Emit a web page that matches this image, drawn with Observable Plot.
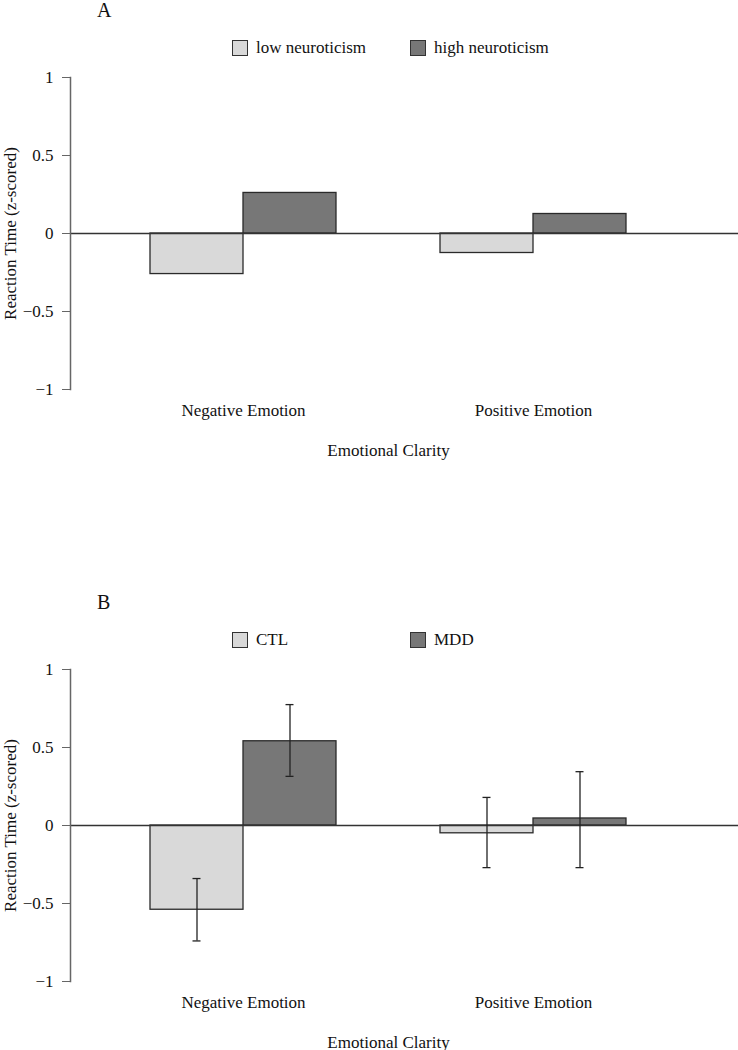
<!DOCTYPE html>
<html>
<head>
<meta charset="utf-8">
<script src="https://cdn.jsdelivr.net/npm/d3@7"></script>
<script src="https://cdn.jsdelivr.net/npm/@observablehq/plot@0.6"></script>
<style>
  html, body { margin: 0; padding: 0; background: #fff; }
  #root { position: relative; width: 738px; height: 1050px; font-family: "Liberation Serif", "Times New Roman", serif; color: #111; }
  .panel { position: absolute; left: 0; width: 738px; height: 470px; }
  .panel-label { position: absolute; left: 97px; top: 0px; font-size: 20px; line-height: 20px; }
  .legend-item { position: absolute; top: 37px; height: 22px; display: flex; align-items: center; font-size: 17px; line-height: 22px; }
  .swatch { width: 14px; height: 14px; border: 1.5px solid #333; margin-right: 8px; }
  .panel svg { position: absolute; left: 0; top: 0; }
</style>
</head>
<body>
<div id="root"></div>
<script>
// ---- data ----
const categories = ["Negative Emotion", "Positive Emotion"];
const yTicks = [-1, -0.5, 0, 0.5, 1];
const fills = ["#d9d9d9", "#777777"];

const groupsA = ["low neuroticism", "high neuroticism"];
const lowA = [-0.26, -0.125];
const highA = [0.26, 0.125];

const groupsB = ["CTL", "MDD"];
const ctlB = [-0.54, -0.05];
const mddB = [0.54, 0.045];
const ctlLo = [-0.74, -0.27];
const ctlHi = [-0.34, 0.18];
const mddLo = [0.315, -0.27];
const mddHi = [0.775, 0.345];

const yLabel = "Reaction Time (z-scored)";
const xLabel = "Emotional Clarity";

function rowsFrom(groups, seriesList, loList, hiList) {
  const rows = [];
  categories.forEach((c, i) => {
    groups.forEach((g, j) => {
      const r = {emotion: c, group: g, value: seriesList[j][i]};
      if (loList) { r.lo = loList[j][i]; r.hi = hiList[j][i]; }
      rows.push(r);
    });
  });
  return rows;
}

function makePlot(groups, rows, withErr) {
  const marks = [
    Plot.barY(rows, {fx: "emotion", x: "group", y: "value", fill: "group", stroke: "#2a2a2a", strokeWidth: 1.3}),
    Plot.ruleY([{fx: categories[0], y: 0}], {fx: "fx", y: "y", insetLeft: -28, stroke: "#333", strokeWidth: 1.3}),
    Plot.ruleY([{fx: categories[1], y: 0}], {fx: "fx", y: "y", insetRight: -60, stroke: "#333", strokeWidth: 1.3}),
    Plot.frame({anchor: "left", facetAnchor: "left", dx: -28, stroke: "#666", strokeWidth: 1.5}),
    Plot.axisY({ticks: yTicks, tickFormat: d3.format("~g"), tickSize: 8, tickPadding: 9, dx: -28,
      stroke: "#666", fill: "#111", label: yLabel, labelAnchor: "center", labelArrow: "none", labelOffset: 95}),
    Plot.axisFx({anchor: "bottom", tickSize: 0, tickPadding: 14, label: xLabel, labelAnchor: "center", labelArrow: "none", labelOffset: 66, fill: "#111"})
  ];
  if (withErr) {
    marks.push(
      Plot.ruleX(rows, {fx: "emotion", x: "group", y1: "lo", y2: "hi", stroke: "#222", strokeWidth: 1.3}),
      Plot.tickY(rows, {fx: "emotion", x: "group", y: "lo", inset: 42.5, stroke: "#222", strokeWidth: 1.3}),
      Plot.tickY(rows, {fx: "emotion", x: "group", y: "hi", inset: 42.5, stroke: "#222", strokeWidth: 1.3})
    );
  }
  return Plot.plot({
    width: 738,
    height: 470,
    marginTop: 77,
    marginBottom: 81,
    marginLeft: 98,
    marginRight: 60,
    style: {fontFamily: "'Liberation Serif', 'Times New Roman', serif", fontSize: "17px", color: "#111", background: "transparent", overflow: "visible"},
    fx: {domain: categories, padding: 0, label: null},
    x: {domain: groups, paddingInner: 0, paddingOuter: 0.5426, axis: null},
    y: {domain: [-1, 1], axis: null},
    color: {domain: groups, range: fills},
    marks
  });
}

function makePanel(top, letter, groups, rows, withErr) {
  const panel = document.createElement("div");
  panel.className = "panel";
  panel.style.top = top + "px";
  panel.appendChild(makePlot(groups, rows, withErr));
  const lab = document.createElement("div");
  lab.className = "panel-label";
  lab.textContent = letter;
  panel.appendChild(lab);
  const lefts = [232, 410];
  groups.forEach((g, i) => {
    const item = document.createElement("div");
    item.className = "legend-item";
    item.style.left = lefts[i] + "px";
    const sw = document.createElement("div");
    sw.className = "swatch";
    sw.style.background = fills[i];
    const tx = document.createElement("span");
    tx.textContent = g;
    item.appendChild(sw);
    item.appendChild(tx);
    panel.appendChild(item);
  });
  document.getElementById("root").appendChild(panel);
}

const rowsA = rowsFrom(groupsA, [lowA, highA]);
const rowsB = rowsFrom(groupsB, [ctlB, mddB], [ctlLo, mddLo], [ctlHi, mddHi]);
makePanel(0, "A", groupsA, rowsA, false);
makePanel(592, "B", groupsB, rowsB, true);
</script>
</body>
</html>
